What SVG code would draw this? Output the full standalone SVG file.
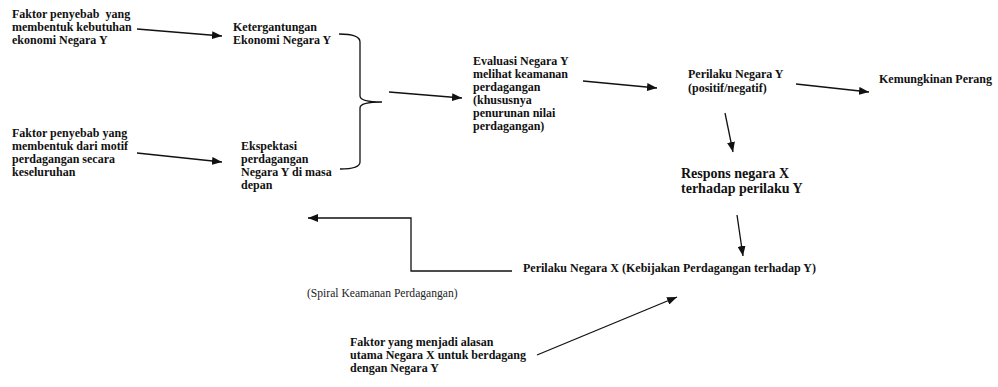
<svg xmlns="http://www.w3.org/2000/svg" width="998" height="387" viewBox="0 0 998 387">
<style>
text{font-family:"Liberation Serif","Times New Roman",serif;font-size:12px;font-weight:bold;fill:#111;white-space:pre}
.big{font-size:14px}
.norm{font-weight:normal;font-size:11.6px;fill:#222}
.c{fill:none;stroke:#111;stroke-width:1.3}
</style>
<defs>
<marker id="ah" markerUnits="userSpaceOnUse" markerWidth="10" markerHeight="8" refX="10" refY="4" orient="auto">
<path d="M0,0 L10,4 L0,8 z" fill="#111"/>
</marker>
</defs>
<rect width="998" height="387" fill="#fff"/>
<g id="n-faktor1"><text x="12" y="18">Faktor penyebab  yang</text><text x="12" y="31">membentuk kebutuhan</text><text x="12" y="44">ekonomi Negara Y</text></g>
<g id="n-faktor2"><text x="12" y="137">Faktor penyebab yang</text><text x="12" y="150">membentuk dari motif</text><text x="12" y="163">perdagangan secara</text><text x="12" y="176">keseluruhan</text></g>
<g id="n-ketergantungan"><text x="233" y="31">Ketergantungan</text><text x="233" y="44">Ekonomi Negara Y</text></g>
<g id="n-ekspektasi"><text x="241" y="150">Ekspektasi</text><text x="241" y="163">perdagangan</text><text x="241" y="176">Negara Y di masa</text><text x="241" y="189">depan</text></g>
<g id="n-evaluasi"><text x="473" y="65">Evaluasi Negara Y</text><text x="473" y="78">melihat keamanan</text><text x="473" y="91">perdagangan</text><text x="473" y="104">(khususnya</text><text x="473" y="117">penurunan nilai</text><text x="473" y="130">perdagangan)</text></g>
<g id="n-perilakuY"><text x="688" y="78">Perilaku Negara Y</text><text x="688" y="92">(positif/negatif)</text></g>
<g id="n-perang"><text x="879" y="83">Kemungkinan Perang</text></g>
<g id="n-respons"><text class="big" x="681" y="178">Respons negara X</text><text class="big" x="681" y="193">terhadap perilaku Y</text></g>
<g id="n-perilakuX"><text x="523" y="272">Perilaku Negara X (Kebijakan Perdagangan terhadap Y)</text></g>
<g id="n-spiral"><text class="norm" x="307" y="297">(Spiral Keamanan Perdagangan)</text></g>
<g id="n-faktor3"><text x="350" y="346">Faktor yang menjadi alasan</text><text x="350" y="359">utama Negara X untuk berdagang</text><text x="350" y="372">dengan Negara Y</text></g>
<g id="connectors">
<line class="c" x1="137" y1="29" x2="222" y2="36" marker-end="url(#ah)"/>
<line class="c" x1="137" y1="153" x2="222" y2="162" marker-end="url(#ah)"/>
<path class="c" d="M339,34 Q360,34 360,42 L360,96 Q360,102 382,102 Q360,102 360,108 L360,162 Q360,169 340,169"/>
<line class="c" x1="389" y1="92" x2="462" y2="98" marker-end="url(#ah)"/>
<line class="c" x1="583" y1="81" x2="657" y2="88" marker-end="url(#ah)"/>
<line class="c" x1="796" y1="84" x2="869" y2="92" marker-end="url(#ah)"/>
<line class="c" x1="725" y1="113" x2="733" y2="152" marker-end="url(#ah)"/>
<line class="c" x1="737" y1="215" x2="743" y2="256" marker-end="url(#ah)"/>
<path class="c" stroke-width="1.5" d="M512,271 L411,271 L411,218 L308,218" marker-end="url(#ah)"/>
<line class="c" x1="537" y1="355" x2="677" y2="297" marker-end="url(#ah)"/>
</g>
</svg>
